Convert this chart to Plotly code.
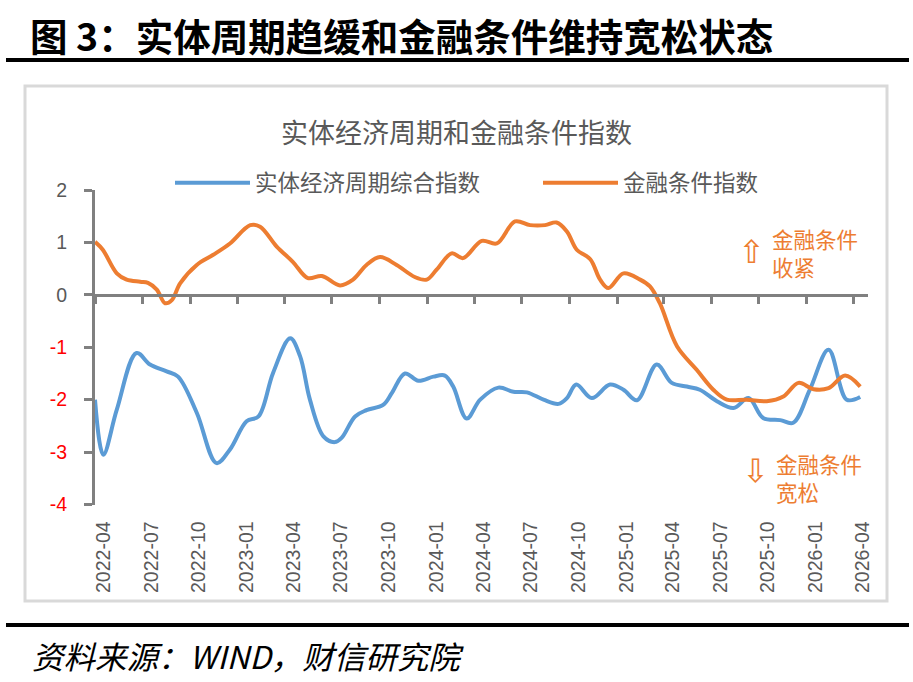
import plotly.graph_objects as go

# ---------------- data ----------------
fin_dates = ["2022-04-01", "2022-04-16", "2022-05-13", "2022-06-01", "2022-06-27", "2022-07-12",
             "2022-07-29", "2022-08-14", "2022-08-27", "2022-09-12", "2022-10-14", "2022-11-14",
             "2022-12-17", "2023-01-25", "2023-02-13", "2023-03-17", "2023-04-17", "2023-05-16",
             "2023-06-12", "2023-07-17", "2023-08-11", "2023-09-06", "2023-10-02", "2023-11-03",
             "2023-12-08", "2023-12-31", "2024-01-19", "2024-02-17", "2024-03-10", "2024-04-15",
             "2024-05-14", "2024-06-18", "2024-07-17", "2024-08-15", "2024-09-06", "2024-09-26",
             "2024-10-15", "2024-11-10", "2024-11-29", "2024-12-15", "2025-01-13", "2025-02-14",
             "2025-03-05", "2025-03-24", "2025-04-26", "2025-06-03", "2025-07-05", "2025-07-31",
             "2025-09-07", "2025-10-16", "2025-11-17", "2025-12-16", "2026-01-14", "2026-02-12",
             "2026-03-16", "2026-04-14"]
fin_values = [1.01, 0.86, 0.41, 0.29, 0.25, 0.23,
              0.10, -0.16, -0.10, 0.22, 0.57, 0.76,
              0.98, 1.33, 1.30, 0.92, 0.63, 0.32,
              0.36, 0.18, 0.29, 0.57, 0.72, 0.57,
              0.34, 0.29, 0.48, 0.79, 0.70, 1.03,
              0.98, 1.40, 1.33, 1.33, 1.38, 1.21,
              0.86, 0.68, 0.29, 0.13, 0.41, 0.29,
              0.16, -0.16, -0.98, -1.43, -1.81, -2.00,
              -2.00, -2.03, -1.94, -1.68, -1.80, -1.78,
              -1.54, -1.75]

real_dates = ["2022-04-01", "2022-04-17", "2022-05-13", "2022-06-20", "2022-07-16", "2022-08-17",
              "2022-09-08", "2022-10-14", "2022-11-21", "2022-12-17", "2023-01-18", "2023-02-10",
              "2023-03-10", "2023-04-12", "2023-05-01", "2023-05-20", "2023-06-15", "2023-07-07",
              "2023-07-20", "2023-08-15", "2023-09-06", "2023-10-08", "2023-10-25", "2023-11-19",
              "2023-12-15", "2024-01-13", "2024-02-04", "2024-02-20", "2024-03-17", "2024-04-12",
              "2024-05-17", "2024-06-15", "2024-07-11", "2024-08-12", "2024-09-10", "2024-09-26",
              "2024-10-14", "2024-11-13", "2024-12-18", "2025-01-13", "2025-02-08", "2025-03-18",
              "2025-04-16", "2025-05-15", "2025-06-09", "2025-07-12", "2025-08-13", "2025-09-11",
              "2025-10-09", "2025-11-11", "2025-12-06", "2026-01-07", "2026-02-12", "2026-03-19",
              "2026-04-14"]
real_values = [-2.00, -3.05, -2.19, -1.11, -1.33, -1.46,
               -1.56, -2.25, -3.21, -2.95, -2.41, -2.32,
               -1.49, -0.83, -1.17, -2.00, -2.70, -2.81,
               -2.73, -2.32, -2.20, -2.10, -1.87, -1.50,
               -1.64, -1.56, -1.54, -1.75, -2.36, -2.00,
               -1.77, -1.85, -1.86, -2.00, -2.08, -1.97,
               -1.71, -1.97, -1.71, -1.81, -2.01, -1.33,
               -1.68, -1.75, -1.81, -2.03, -2.16, -1.97,
               -2.35, -2.39, -2.44, -1.81, -1.05, -2.00,
               -1.95]

x_tick_dates = ["2022-04-01", "2022-07-01", "2022-10-01", "2023-01-01", "2023-04-01", "2023-07-01",
                "2023-10-01", "2024-01-01", "2024-04-01", "2024-07-01", "2024-10-01", "2025-01-01",
                "2025-04-01", "2025-07-01", "2025-10-01", "2026-01-01", "2026-04-01"]
x_tick_labels = ["2022-04", "2022-07", "2022-10", "2023-01", "2023-04", "2023-07",
                 "2023-10", "2024-01", "2024-04", "2024-07", "2024-10", "2025-01",
                 "2025-04", "2025-07", "2025-10", "2026-01", "2026-04"]
y_tick_values = [2, 1, 0, -1, -2, -3, -4]
y_tick_labels = ["2", "1", "0", "-1", "-2", "-3", "-4"]
x_range = ["2022-04-01", "2026-04-29"]
y_range = [-4, 2]

series_names = ["实体经济周期综合指数", "金融条件指数"]
chart_title = "实体经济周期和金融条件指数"
header = "图 3：实体周期趋缓和金融条件维持宽松状态"
source = "资料来源：WIND，财信研究院"

# ---------------- styling ----------------
W, H = 913, 682
BLUE = "#5B9BD5"
ORANGE = "#ED7D31"
GRAY_TXT = "#595959"
AXIS = "#808080"
CJK = "Noto Sans CJK SC"
LAT = "Liberation Sans"

def px_x(p):
    return p / W

def px_y(p):
    return 1 - p / H

x_dom = [px_x(95), px_x(868)]
y_dom = [px_y(504.5), px_y(190)]
zero_pos = y_dom[0] + (0 - y_range[0]) / (y_range[1] - y_range[0]) * (y_dom[1] - y_dom[0])

y_ticktext = [
    (f'<span style="color:#FF0000">{t}</span>' if v < 0 else t)
    for v, t in zip(y_tick_values, y_tick_labels)
]

fig = go.Figure()
fig.add_trace(go.Scatter(
    x=real_dates, y=real_values, name=series_names[0], mode="lines",
    line=dict(color=BLUE, width=4, shape="spline", smoothing=1.0),
    xaxis="x", yaxis="y",
))
fig.add_trace(go.Scatter(
    x=fin_dates, y=fin_values, name=series_names[1], mode="lines",
    line=dict(color=ORANGE, width=4, shape="spline", smoothing=1.0),
    xaxis="x", yaxis="y",
))
# invisible helper trace so the zero-crossing axis is rendered
fig.add_trace(go.Scatter(
    x=x_tick_dates, y=[0] * len(x_tick_dates), mode="lines", showlegend=False,
    hoverinfo="skip", opacity=0, line=dict(width=0), xaxis="x2", yaxis="y",
))

fig.update_layout(
    width=W, height=H,
    margin=dict(l=0, r=0, t=0, b=0, autoexpand=False),
    paper_bgcolor="white", plot_bgcolor="white",
    font=dict(family=f"{LAT}, {CJK}", color=GRAY_TXT),
    showlegend=True,
    legend=dict(
        orientation="h", x=px_x(538), xanchor="center", y=px_y(183), yanchor="middle",
        font=dict(family=CJK, size=22.5, color=GRAY_TXT),
        bgcolor="rgba(0,0,0,0)", itemwidth=75, tracegroupgap=0,
        entrywidth=278, entrywidthmode="pixels",
    ),
    xaxis=dict(
        type="date", domain=x_dom, range=x_range, anchor="y", automargin=False,
        tickmode="array", tickvals=x_tick_dates, ticktext=x_tick_labels,
        tickangle=-90, ticks="", showline=False, showgrid=False, zeroline=False,
        tickfont=dict(family=LAT, size=19.5, color=GRAY_TXT),
        ticklabelstandoff=12, ticklabelshift=9,
    ),
    xaxis2=dict(
        type="date", overlaying="x", matches="x", range=x_range, anchor="free", position=zero_pos,
        automargin=False,
        tickmode="array", tickvals=x_tick_dates, showticklabels=False,
        ticks="outside", ticklen=7, tickwidth=3, tickcolor=AXIS,
        showline=True, linecolor=AXIS, linewidth=3, showgrid=False, zeroline=False,
    ),
    yaxis=dict(
        domain=y_dom, range=y_range, anchor="x", automargin=False,
        tickmode="array", tickvals=y_tick_values, ticktext=y_ticktext,
        ticks="outside", ticklen=8, tickwidth=3, tickcolor=AXIS,
        showline=True, linecolor=AXIS, linewidth=3, showgrid=False, zeroline=False,
        tickfont=dict(family=LAT, size=19.5, color=GRAY_TXT),
        ticklabelstandoff=13,
    ),
)

shapes = [
    dict(type="line", xref="paper", yref="paper", x0=px_x(6), x1=px_x(909), y0=px_y(60), y1=px_y(60),
         line=dict(color="black", width=4)),
    dict(type="line", xref="paper", yref="paper", x0=px_x(6), x1=px_x(909), y0=px_y(625), y1=px_y(625),
         line=dict(color="black", width=4)),
    dict(type="rect", xref="paper", yref="paper", x0=px_x(25), x1=px_x(887), y0=px_y(601), y1=px_y(86),
         line=dict(color="#D9D9D9", width=3), fillcolor="rgba(0,0,0,0)", layer="below"),
]
fig.update_layout(shapes=shapes)

annotations = [
    dict(text=f"<b>{header}</b>", x=px_x(28), y=px_y(35), xanchor="left", yanchor="middle",
         font=dict(family=CJK, size=37.5, color="black")),
    dict(text=chart_title, x=px_x(456), y=px_y(131), xanchor="center", yanchor="middle",
         font=dict(family=CJK, size=27, color=GRAY_TXT)),
    dict(text="⇧", x=px_x(751), y=px_y(252), xanchor="center", yanchor="middle",
         font=dict(family="DejaVu Sans", size=32, color=ORANGE)),
    dict(text="金融条件<br>收紧", x=px_x(770), y=px_y(252), xanchor="left", yanchor="middle", align="left",
         font=dict(family=CJK, size=21.5, color=ORANGE)),
    dict(text="⇩", x=px_x(755), y=px_y(471), xanchor="center", yanchor="middle",
         font=dict(family="DejaVu Sans", size=32, color=ORANGE)),
    dict(text="金融条件<br>宽松", x=px_x(774), y=px_y(477), xanchor="left", yanchor="middle", align="left",
         font=dict(family=CJK, size=21.5, color=ORANGE)),
    dict(text=f"<i>{source}</i>", x=px_x(30), y=px_y(655), xanchor="left", yanchor="middle",
         font=dict(family=CJK, size=31.5, color="black")),
]
for a in annotations:
    a.update(xref="paper", yref="paper", showarrow=False)
fig.update_layout(annotations=annotations)

fig.write_html("out.html")
